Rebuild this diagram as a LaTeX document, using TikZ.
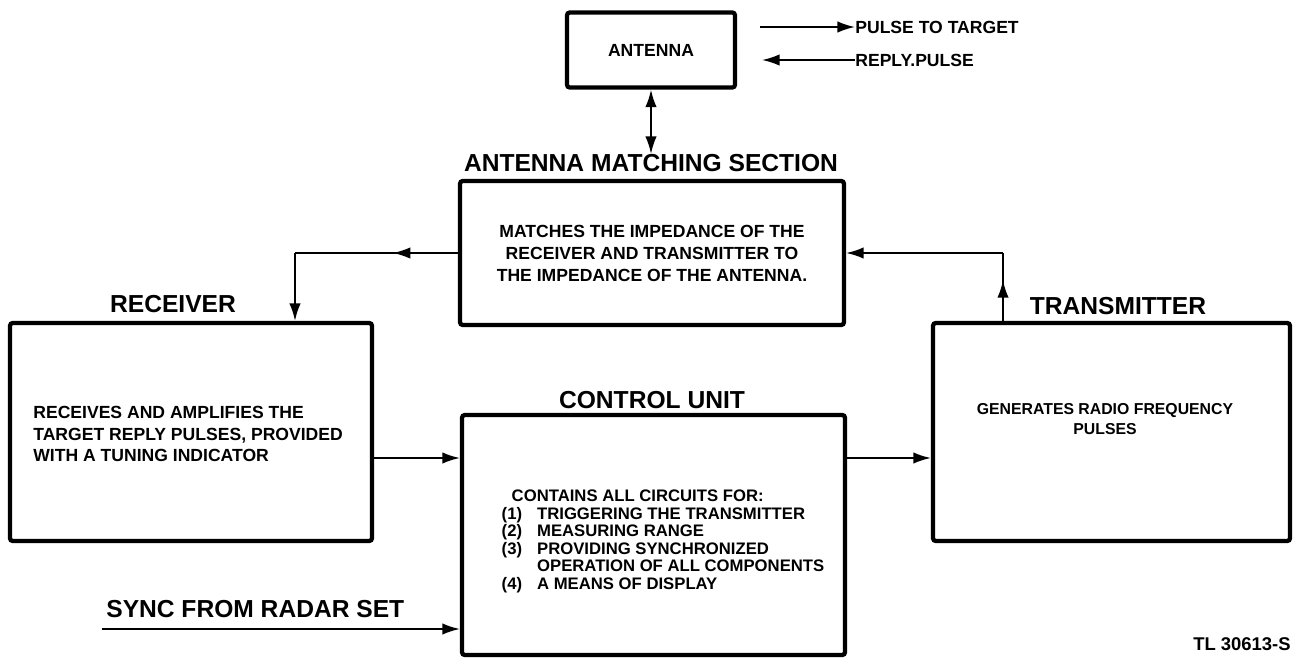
\documentclass[tikz,border=0pt]{standalone}
\usepackage{fontspec}
\setmainfont{Liberation Sans}
\usepackage{tikz}
\usetikzlibrary{arrows.meta,decorations.markings}

\tikzset{
  block/.style={draw, line width=2.4pt, rounded corners=1.5pt, inner sep=0pt},
  title/.style={font=\fontsize{14}{16}\selectfont\bfseries, inner sep=0pt},
  body/.style={font=\fontsize{10}{12}\selectfont\bfseries, inner sep=0pt},
  wire/.style={line width=1.1pt},
  link/.style={line width=1.1pt, -{Latex[length=10pt,width=6.5pt]}},
  biarrow/.style={line width=1.1pt, {Latex[length=10pt,width=6.5pt]}-{Latex[length=10pt,width=6.5pt]}},
  midarrow/.style={decoration={markings, mark=at position #1 with {\arrow{Latex[length=10pt,width=6.5pt]}}}, postaction={decorate}},
}

\begin{document}
\begin{tikzpicture}[x=0.02cm, y=-0.02cm]
			\useasboundingbox (0,0) rectangle (1299,659);
			
			% Blocks
			\node[block, body, minimum width=3.36cm, minimum height=1.5cm] (antenna) at (651,50) {ANTENNA};
			\node[block, body, align=center, minimum width=7.68cm, minimum height=2.88cm,
			      font=\fontsize{10}{12.5}\selectfont\bfseries] (matching) at (652,253)
			      {MATCHES THE IMPEDANCE OF THE\\RECEIVER AND TRANSMITTER TO\\THE IMPEDANCE OF THE ANTENNA.};
			\node[block, minimum width=7.24cm, minimum height=4.36cm] (receiver) at (191,432) {};
			\node[block, minimum width=7.66cm, minimum height=4.8cm] (control) at (653.5,535) {};
			\node[block, minimum width=7.14cm, minimum height=4.36cm] (transmitter) at (1111.5,432) {};
			
			% Titles
			\node[title] (matchtitle) at (651,163) {ANTENNA MATCHING SECTION};
			\node[title] (rxtitle) at (173,304) {RECEIVER};
			\node[title] (cutitle) at (652,400) {CONTROL UNIT};
			\node[title] (txtitle) at (1118,306) {TRANSMITTER};
			
			% Texts in the blocks
			\node[body, anchor=west, align=left] (rxtext) at (33,434)
			      {RECEIVES AND AMPLIFIES THE\\TARGET REPLY PULSES, PROVIDED\\WITH A TUNING INDICATOR};
			\node[body, align=center, font=\fontsize{9}{11.5}\selectfont\bfseries] (txtext) at (1105,419)
			      {GENERATES RADIO FREQUENCY\\PULSES};
			\node[body, font=\fontsize{9.5}{10}\selectfont\bfseries] (cutext) at (663,542) {%
				\begin{tabular}{@{}l@{\hspace{0.9em}}l@{}}
					\multicolumn{2}{@{\hspace{0.6em}}l@{}}{CONTAINS ALL CIRCUITS FOR:}\\
					(1) & TRIGGERING THE TRANSMITTER\\
					(2) & MEASURING RANGE\\
					(3) & PROVIDING SYNCHRONIZED\\
					    & OPERATION OF ALL COMPONENTS\\
					(4) & A MEANS OF DISPLAY
				\end{tabular}};
			
			% Legend
			\node[body, anchor=west] (pulsetxt) at (855,27) {PULSE TO TARGET};
			\node[body, anchor=west] (replytxt) at (855,60) {REPLY.PULSE};
			\coordinate (pulsefrom) at (760,27);
			\coordinate (replyto) at (762,60);
			\draw[link] (pulsefrom) -- (pulsetxt.west);
			\draw[link] (replytxt.west) -- (replyto);
			
			% Connections
			\coordinate (rxcol) at (295,0);
			\coordinate (txcol) at (1003,0);
			\coordinate (busrow) at (0,458);
			\draw[biarrow] (antenna.south) -- (matchtitle.north);
			\draw[wire, midarrow=0.4] (matching.west) -- (rxcol |- matching.west);
			\draw[link] (rxcol |- matching.west) -- (rxcol |- receiver.north);
			\draw[wire, midarrow=0.6] (txcol |- transmitter.north) -- (txcol |- matching.east);
			\draw[link] (txcol |- matching.east) -- (matching.east);
			\draw[link] (receiver.east |- busrow) -- (control.west |- busrow);
			\draw[link] (control.east |- busrow) -- (transmitter.west |- busrow);
			
			% Sync input
			\coordinate (syncfrom) at (102,629);
			\node[title, anchor=south west] (synctxt) at (106,618) {SYNC FROM RADAR SET};
			\draw[link] (syncfrom) -- (syncfrom -| control.west);
			
			\node[body, font=\fontsize{10.5}{12}\selectfont\bfseries] (tlnum) at (1242,644) {TL 30613-S};
		\end{tikzpicture}
\end{document}
